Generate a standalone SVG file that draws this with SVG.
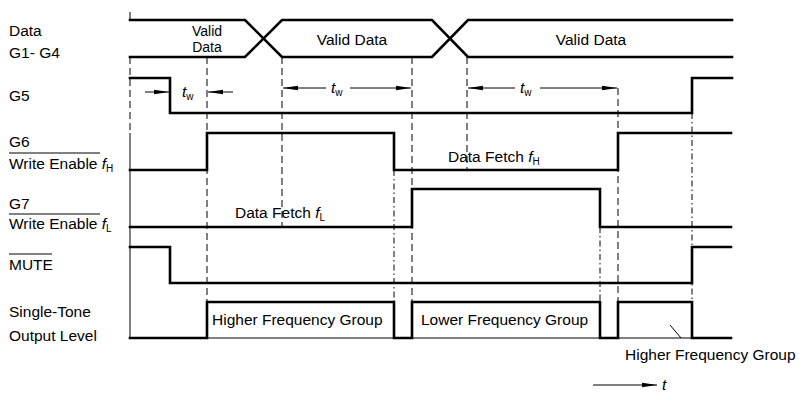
<svg xmlns="http://www.w3.org/2000/svg" width="806" height="399" viewBox="0 0 806 399">
<style>
text{font-family:"Liberation Sans",Arial,sans-serif;font-size:15.5px;fill:#000}
.w{fill:none;stroke:#000;stroke-width:2.6;stroke-linejoin:miter;stroke-linecap:square}
.thin{fill:none;stroke:#000;stroke-width:1}
.dash{fill:none;stroke:#000;stroke-width:1;stroke-dasharray:7 4}
.dd{fill:none;stroke:#000;stroke-width:1;stroke-dasharray:6 3 1.5 3}
.it{font-style:italic}
.sub{font-size:10px}
.sm{font-size:14px}
</style>
<defs>
<marker id="ah" markerUnits="userSpaceOnUse" markerWidth="16" markerHeight="8" refX="15" refY="3" orient="auto">
<path d="M0,0.8 L15,3 L0,5.2 z" fill="#000"/>
</marker>
</defs>
<rect width="806" height="399" fill="#fff"/>

<g id="labels">
<text x="9" y="36">Data</text>
<text x="9" y="58">G1- G4</text>
<text x="9" y="101">G5</text>
<text x="9" y="147">G6</text>
<line class="thin" x1="9" y1="153" x2="100" y2="153"/>
<text x="9" y="169">Write Enable <tspan class="it">f</tspan><tspan class="sub" dy="3">H</tspan></text>
<text x="9" y="209">G7</text>
<line class="thin" x1="9" y1="214" x2="100" y2="214"/>
<text x="9" y="229">Write Enable <tspan class="it">f</tspan><tspan class="sub" dy="3">L</tspan></text>
<text x="9" y="270">MUTE</text>
<line class="thin" x1="9" y1="254" x2="52" y2="254"/>
<text x="9" y="317">Single-Tone</text>
<text x="9" y="341">Output Level</text>
</g>

<g id="timing-lines">
<line class="thin" x1="130" y1="12" x2="130" y2="20"/>
<line class="dash" x1="130" y1="57" x2="130" y2="133"/>
<line class="thin" x1="130" y1="133" x2="130" y2="338"/>
<line class="dash" x1="207" y1="57" x2="207" y2="302"/>
<line class="dash" x1="282" y1="57" x2="282" y2="227"/>
<line class="dd" x1="394" y1="170" x2="394" y2="302"/>
<line class="dash" x1="412" y1="57" x2="412" y2="302"/>
<line class="dash" x1="467" y1="57" x2="467" y2="170"/>
<line class="dd" x1="600" y1="227" x2="600" y2="302"/>
<line class="dash" x1="618" y1="88" x2="618" y2="302"/>
<line class="dd" x1="692" y1="113" x2="692" y2="302"/>
<line class="thin" x1="207" y1="338" x2="692" y2="338" stroke-width="0.8"/>
</g>

<g id="sig-data">
<path class="w" d="M130,20 H245 L282,57 H432 L468,20 H732"/>
<path class="w" d="M130,57 H245 L282,20 H432 L468,57 H732"/>
<text class="sm" x="207" y="36" text-anchor="middle">Valid</text>
<text class="sm" x="207" y="52" text-anchor="middle">Data</text>
<text x="352" y="45" text-anchor="middle">Valid Data</text>
<text x="591" y="45" text-anchor="middle">Valid Data</text>
</g>

<g id="sig-g5">
<path class="w" d="M130,78 H170 V113 H692 V78 H732"/>
<line class="thin" x1="145" y1="92" x2="169" y2="92" marker-end="url(#ah)"/>
<line class="thin" x1="233" y1="92" x2="208" y2="92" marker-end="url(#ah)"/>
<text x="182" y="97"><tspan class="it">t</tspan><tspan class="sub" dy="3">w</tspan></text>
<line class="thin" x1="326" y1="88" x2="283" y2="88" marker-end="url(#ah)"/>
<line class="thin" x1="350" y1="88" x2="411" y2="88" marker-end="url(#ah)"/>
<text x="331" y="93"><tspan class="it">t</tspan><tspan class="sub" dy="3">w</tspan></text>
<line class="thin" x1="515" y1="88" x2="468" y2="88" marker-end="url(#ah)"/>
<line class="thin" x1="540" y1="88" x2="617" y2="88" marker-end="url(#ah)"/>
<text x="520" y="93"><tspan class="it">t</tspan><tspan class="sub" dy="3">w</tspan></text>
</g>

<g id="sig-g6">
<path class="w" d="M130,170 H207 V133 H394 V170 H618 V133 H731"/>
<text x="448" y="162">Data Fetch <tspan class="it">f</tspan><tspan class="sub" dy="3">H</tspan></text>
</g>

<g id="sig-g7">
<path class="w" d="M130,227 H412 V189 H600 V227 H731"/>
<text x="235" y="218">Data Fetch <tspan class="it">f</tspan><tspan class="sub" dy="3">L</tspan></text>
</g>

<g id="sig-mute">
<path class="w" d="M130,247 H170 V283 H692 V247 H731"/>
</g>

<g id="sig-output">
<path class="w" d="M130,338 H207 V302 H394 V338 H412 V302 H600 V338 H618 V302 H692 V338 H731"/>
<text x="212" y="325">Higher Frequency Group</text>
<text x="421" y="325">Lower Frequency Group</text>
<line class="thin" x1="670" y1="325" x2="681" y2="338"/>
<text x="625" y="360">Higher Frequency Group</text>
</g>

<g id="time-axis">
<line class="thin" x1="593" y1="385" x2="657" y2="385" marker-end="url(#ah)"/>
<text x="662" y="390" class="it">t</text>
</g>
</svg>
